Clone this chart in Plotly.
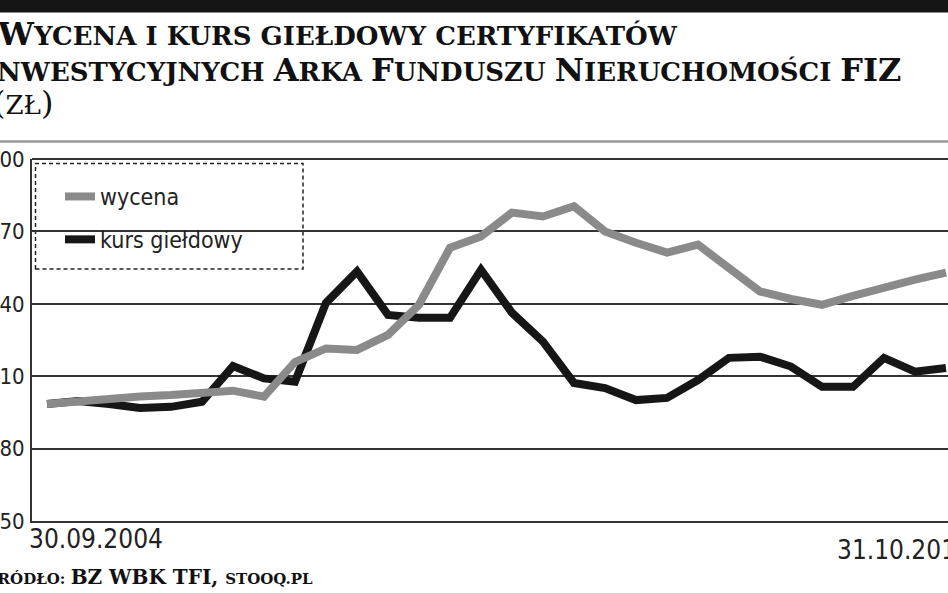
import plotly.graph_objects as go

# --- data (zł) ---
wycena = [98.5, 99.7, 100.5, 101.6, 102.2, 103.0, 104.0, 101.5, 115.9, 121.5,
          120.9, 127.1, 139.6, 163.2, 167.9, 177.8, 176.2, 180.4, 170.0, 165.3,
          161.2, 164.5, 154.8, 145.1, 142.0, 139.6, 143.3, 147.0, 150.0, 152.9]
kurs = [98.5, 99.7, 98.5, 96.8, 97.3, 99.4, 114.2, 109.1, 107.7, 140.4,
        153.4, 135.4, 134.2, 134.2, 154.1, 136.3, 124.3, 107.2, 105.1, 100.1,
        101.0, 108.4, 117.6, 118.1, 114.0, 105.6, 105.6, 117.6, 111.9, 113.4]
y_ticks = [50, 80, 110, 140, 170, 200]
start_label = "30.09.2004"
end_label = "31.10.2011"
names = ["wycena", "kurs giełdowy"]

x = list(range(len(wycena)))

W, H = 948, 593
ML, MT, MB = 32, 159, 72
PW = W - ML
PH = H - MT - MB


def px(xp):
    return (xp - ML) / PW


def py(yp):
    return (H - MB - yp) / PH


SANS = "DejaVu Sans Condensed, Roboto, sans-serif"
SERIF = "DejaVu Serif, serif"

fig = go.Figure()
fig.add_trace(go.Scatter(x=x, y=kurs, mode="lines", name=names[1],
                         line=dict(color="#161616", width=8),
                         legendrank=2, legendgroup="b", hoverinfo="skip"))
fig.add_trace(go.Scatter(x=x, y=wycena, mode="lines", name=names[0],
                         line=dict(color="#8a8a8a", width=8),
                         legendrank=1, legendgroup="a", hoverinfo="skip"))

n = len(wycena)
fig.update_layout(
    width=W, height=H,
    margin=dict(l=ML, r=0, t=MT, b=MB, pad=0),
    paper_bgcolor="white", plot_bgcolor="white",
    showlegend=True,
    legend=dict(x=px(60), y=py(175), xanchor="left", yanchor="top",
                font=dict(family=SANS, size=23, color="#222"),
                bgcolor="rgba(0,0,0,0)", borderwidth=0,
                traceorder="grouped", tracegroupgap=10),
    xaxis=dict(range=[-0.484, n - 1 + 0.065], showgrid=False, zeroline=False,
               showticklabels=False, showline=True, linecolor="#333",
               linewidth=2, fixedrange=True, automargin=False),
    yaxis=dict(range=[50, 200], tickvals=y_ticks,
               ticktext=[str(v) for v in y_ticks],
               showgrid=True, gridcolor="#333", gridwidth=1.6,
               zeroline=False, showline=True, linecolor="#333", linewidth=2,
               ticks="", ticklabelstandoff=1, automargin=False, fixedrange=True,
               tickfont=dict(family=SANS, size=22, color="#222")),
)

shapes = [
    dict(type="rect", xref="paper", yref="paper", x0=px(-5), x1=px(960),
         y0=py(12.5), y1=py(-5), fillcolor="#141414", line=dict(width=0),
         layer="above"),
    dict(type="line", xref="paper", yref="paper", x0=px(-5), x1=px(960),
         y0=py(141.5), y1=py(141.5), line=dict(color="#9a9a9a", width=2.5)),
    dict(type="line", xref="paper", yref="paper", x0=0, x1=px(960),
         y0=1, y1=1, line=dict(color="#333", width=2)),
    dict(type="rect", xref="paper", yref="paper", x0=px(35.5), x1=px(303),
         y0=py(269), y1=py(163.5), line=dict(color="#222", width=1.5, dash="4px,3px"),
         fillcolor="white", layer="below"),
]
fig.update_layout(shapes=shapes)

BIG, SM = 32, 26


def sc(s):
    return '<span style="font-size:%dpx">%s</span>' % (SM, s)


title1 = "W" + sc("YCENA I KURS GIEŁDOWY CERTYFIKATÓW")
title2 = ("I" + sc("NWESTYCYJNYCH ") + "A" + sc("RKA ") + "F" + sc("UNDUSZU ")
          + "N" + sc("IERUCHOMOŚCI ") + "FIZ")
title3 = "(" + sc("ZŁ") + ")"
FS, FSS = 20, 15
source = ("Ź" + '<span style="font-size:%dpx">RÓDŁO: </span>' % FSS + "BZ WBK TFI, "
          + '<span style="font-size:%dpx">STOOQ.PL</span>' % FSS)

tfont = dict(family=SERIF, size=BIG, color="#111", weight="bold")
ann = []
ann.append(dict(text=title1, x=px(-5), y=py(48), xref="paper", yref="paper",
                xanchor="left", yanchor="bottom", showarrow=False,
                font=tfont, yshift=-7))
ann.append(dict(text=title2, x=px(-20), y=py(82), xref="paper", yref="paper",
                xanchor="left", yanchor="bottom", showarrow=False,
                font=tfont, yshift=-9))
ann.append(dict(text=title3, x=px(-9), y=py(116), xref="paper", yref="paper",
                xanchor="left", yanchor="bottom", showarrow=False,
                font=dict(family=SERIF, size=BIG, color="#111"), yshift=-8))
ann.append(dict(text=source, x=px(-19), y=py(584), xref="paper", yref="paper",
                xanchor="left", yanchor="bottom", showarrow=False,
                font=dict(family=SERIF, size=FS, color="#111", weight="bold"), yshift=-7))
ann.append(dict(text=start_label, x=px(27), y=0, xref="paper", yref="paper",
                xanchor="left", yanchor="top", yshift=-1, showarrow=False,
                font=dict(family=SANS, size=26, color="#222")))
ann.append(dict(text=end_label, x=px(835), y=0, xref="paper", yref="paper",
                xanchor="left", yanchor="top", yshift=-12, showarrow=False,
                font=dict(family=SANS, size=26, color="#222")))
fig.update_layout(annotations=ann)

fig.write_html("out.html", config={"displayModeBar": False},
               post_script="document.body.style.margin='0';document.body.style.overflow='hidden';")
